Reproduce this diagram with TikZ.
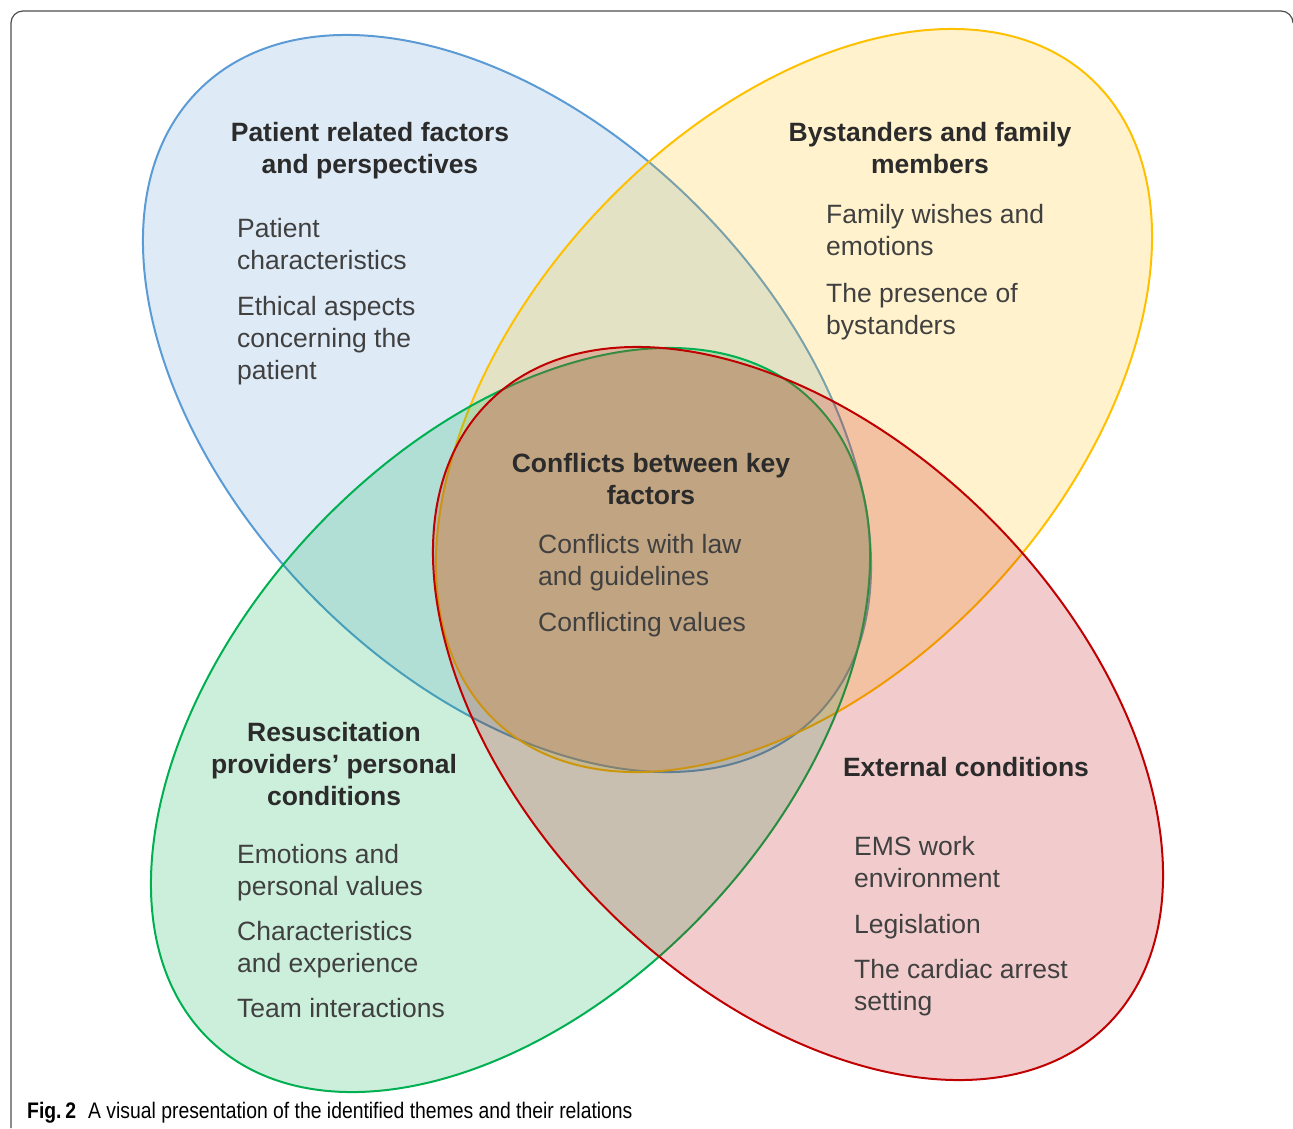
\documentclass[tikz,border=0pt]{standalone}
\usepackage{fontspec}
\setmainfont{Liberation Sans}
\newfontfamily\capfont[FakeStretch=0.86]{Liberation Sans}
\definecolor{vblue}{HTML}{5B9BD5}
\definecolor{vyellow}{HTML}{FFC000}
\definecolor{vgreen}{HTML}{00B050}
\definecolor{vred}{HTML}{C00000}
\definecolor{tint}{RGB}{255,160,110}
\definecolor{titlegray}{HTML}{2B2B2B}
\definecolor{bodygray}{HTML}{404040}
\definecolor{framegray}{HTML}{4D4D4D}
\tikzset{
  venn/.style={line width=2pt, fill opacity=0.2},
  eblue/.style={shift={(507,-403.5)}, xscale=364, yscale=368.5, rotate=-45},
  eyellow/.style={shift={(794,-400.5)}, xscale=358, yscale=371.5, rotate=45},
  egreen/.style={shift={(510.5,-720)}, xscale=359.5, yscale=372, rotate=45},
  ered/.style={shift={(798,-713.5)}, xscale=365, yscale=366.5, rotate=-45},
  ttl/.style={anchor=base, inner sep=0pt, text=titlegray, font=\fontsize{26.5}{32}\selectfont\bfseries},
  bdy/.style={anchor=base west, inner sep=0pt, text=bodygray, font=\fontsize{26.5}{32}\selectfont},
  captxt/.style={anchor=base west, inner sep=0pt, text=black, font=\capfont\fontsize{22.5}{27}\selectfont},
  framebox/.style={draw=framegray, line width=1.2pt}
}
\begin{document}
\begin{tikzpicture}[x=1pt,y=1pt]
\useasboundingbox (0,0) rectangle (1293,-1128);
% frame
\draw[framebox] (11,-1128) -- (11,-23) arc[start angle=180,end angle=90,radius=12] -- (1281,-11) arc[start angle=90,end angle=0,radius=12];
% ellipses
\draw[venn, draw=vblue, fill=vblue, eblue] (0,0) ellipse [x radius=1.2, y radius=0.7483];
\draw[venn, draw=vyellow, fill=vyellow, eyellow] (0,0) ellipse [x radius=1.2, y radius=0.7483];
\draw[venn, draw=vgreen, fill=vgreen, egreen] (0,0) ellipse [x radius=1.2, y radius=0.7483];
% colour correction of the four-way overlap (drawn under the red outline)
\begin{scope}
  \clip[eblue] (0,0) ellipse [x radius=1.2, y radius=0.7483];
  \clip[eyellow] (0,0) ellipse [x radius=1.2, y radius=0.7483];
  \clip[egreen] (0,0) ellipse [x radius=1.2, y radius=0.7483];
  \fill[tint, fill opacity=0.16, ered] (0,0) ellipse [x radius=1.2, y radius=0.7483];
\end{scope}
\draw[venn, draw=vred, fill=vred, ered] (0,0) ellipse [x radius=1.2, y radius=0.7483];
% patient
\node[ttl] (pt1) at (370,-141) {Patient related factors};
\node[ttl] (pt2) at (370,-173) {and perspectives};
\node[bdy] (pb1) at (237,-237) {Patient};
\node[bdy] (pb2) at (237,-269) {characteristics};
\node[bdy] (pb3) at (237,-315) {Ethical aspects};
\node[bdy] (pb4) at (237,-347) {concerning the};
\node[bdy] (pb5) at (237,-379) {patient};
% bystanders
\node[ttl] (bt1) at (930,-141) {Bystanders and family};
\node[ttl] (bt2) at (930,-173) {members};
\node[bdy] (bb1) at (826,-223) {Family wishes and};
\node[bdy] (bb2) at (826,-255) {emotions};
\node[bdy] (bb3) at (826,-302) {The presence of};
\node[bdy] (bb4) at (826,-334) {bystanders};
% center
\node[ttl] (ct1) at (651,-472) {Conflicts between key};
\node[ttl] (ct2) at (651,-504) {factors};
\node[bdy] (cb1) at (538,-553) {Conflicts with law};
\node[bdy] (cb2) at (538,-585) {and guidelines};
\node[bdy] (cb3) at (538,-631) {Conflicting values};
% resuscitation
\node[ttl] (rt1) at (334,-741) {Resuscitation};
\node[ttl] (rt2) at (334,-773) {providers’ personal};
\node[ttl] (rt3) at (334,-805) {conditions};
\node[bdy] (rb1) at (237,-863) {Emotions and};
\node[bdy] (rb2) at (237,-895) {personal values};
\node[bdy] (rb3) at (237,-940) {Characteristics};
\node[bdy] (rb4) at (237,-972) {and experience};
\node[bdy] (rb5) at (237,-1017) {Team interactions};
% external
\node[ttl] (et1) at (966,-776) {External conditions};
\node[bdy] (eb1) at (854,-855) {EMS work};
\node[bdy] (eb2) at (854,-887) {environment};
\node[bdy] (eb3) at (854,-933) {Legislation};
\node[bdy] (eb4) at (854,-978) {The cardiac arrest};
\node[bdy] (eb5) at (854,-1010) {setting};
% caption
\node[captxt] (fig) at (27,-1118) {\bfseries Fig.\,2};
\node[captxt] (capt) at (88,-1118) {A visual presentation of the identified themes and their relations};
\end{tikzpicture}
\end{document}
